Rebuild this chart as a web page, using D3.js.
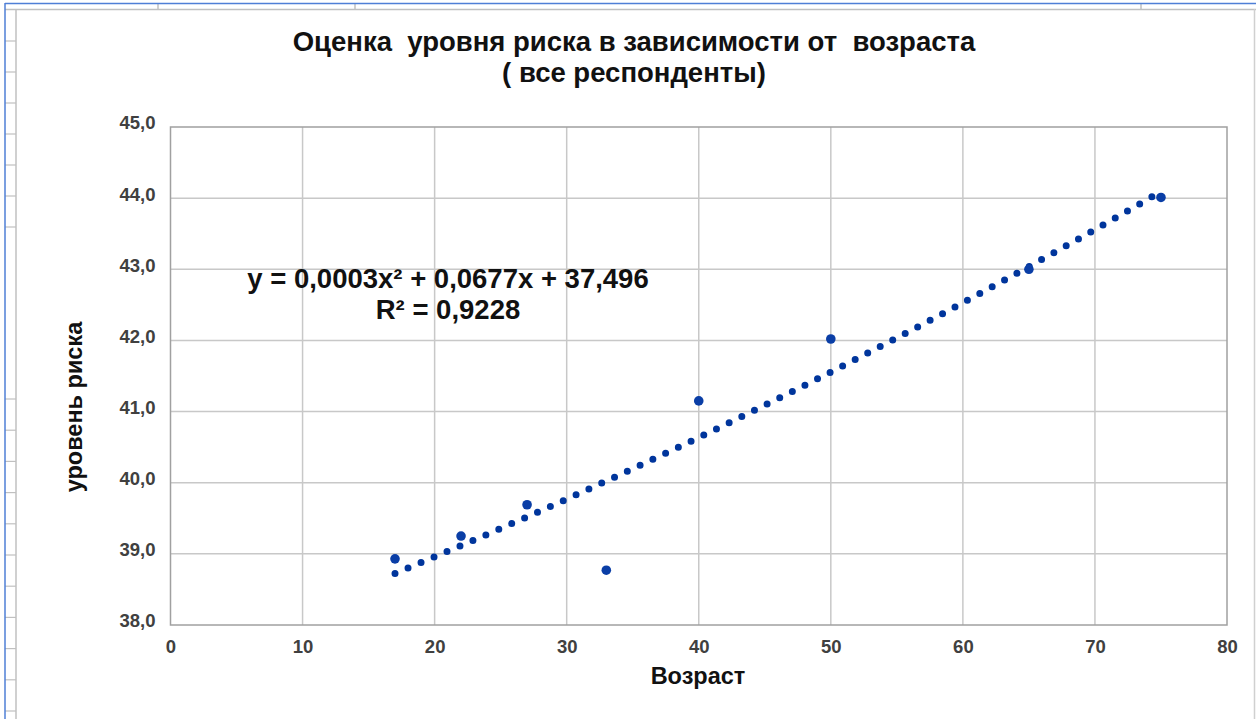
<!DOCTYPE html>
<html>
<head>
<meta charset="utf-8">
<script src="https://cdn.jsdelivr.net/npm/d3@7"></script>
<style>
  html, body { margin: 0; padding: 0; background: #fff; }
  svg { display: block; }
  text { font-family: "Liberation Sans", Arial, sans-serif; }
</style>
</head>
<body>
<svg id="chart" width="1256" height="719"></svg>
<script>
// ---- data ----
const ages = [17, 22, 27, 33, 40, 50, 65, 75];
const risk = [38.93, 39.25, 39.69, 38.77, 41.15, 42.02, 43.0, 44.01];
const xTicks = [0, 10, 20, 30, 40, 50, 60, 70, 80];
const yTicks = [38, 39, 40, 41, 42, 43, 44, 45];
const trendCoef = [0.00027, 0.0677, 37.496]; // a, b, c of polynomial trendline
const titleLines = ["Оценка  уровня риска в зависимости от  возраста", "( все респонденты)"];
const eqLines = ["y = 0,0003x² + 0,0677x + 37,496", "R² = 0,9228"];
const xTitle = "Возраст";
const yTitle = "уровень риска";

const svg = d3.select("#chart");
const W = 1256, H = 719;

// ---- spreadsheet frame decoration ----
const deco = svg.append("g");
deco.append("rect").attr("x", 0).attr("y", 0).attr("width", W).attr("height", H).attr("fill", "#fff");
deco.append("line").attr("x1", 5).attr("x2", W).attr("y1", 9.5).attr("y2", 9.5).attr("stroke", "#c0c0c0").attr("stroke-width", 1.5);
[158, 355, 1141].forEach(xx => deco.append("line").attr("x1", xx).attr("x2", xx).attr("y1", 3).attr("y2", 9.5).attr("stroke", "#c0c0c0").attr("stroke-width", 1.5));
deco.append("line").attr("x1", 16).attr("x2", 16).attr("y1", 9).attr("y2", H).attr("stroke", "#c0c0c0").attr("stroke-width", 1.5);
deco.append("line").attr("x1", W - 1.5).attr("x2", W - 1.5).attr("y1", 9).attr("y2", H).attr("stroke", "#d0d0d0").attr("stroke-width", 1.5);
const stripYs = [];
for (let yy = 41; yy < 240; yy += 31) stripYs.push(yy);
for (let yy = 399; yy < H; yy += 31.2) stripYs.push(yy);
stripYs.forEach(yy => deco.append("line").attr("x1", 5).attr("x2", 16).attr("y1", yy).attr("y2", yy).attr("stroke", "#c0c0c0").attr("stroke-width", 1.2));
deco.append("line").attr("x1", 5).attr("x2", W).attr("y1", 3.5).attr("y2", 3.5).attr("stroke", "#4f7fd6").attr("stroke-width", 1.5);
deco.append("line").attr("x1", 5).attr("x2", 5).attr("y1", 3).attr("y2", H).attr("stroke", "#4f7fd6").attr("stroke-width", 1.5);

// ---- scales ----
const x = d3.scaleLinear().domain([0, 80]).range([170.5, 1227]);
const y = d3.scaleLinear().domain([38, 45]).range([625, 127]);

// ---- gridlines ----
const grid = svg.append("g");
grid.selectAll(".vg").data(xTicks.slice(1, -1)).enter().append("line")
  .attr("x1", d => x(d)).attr("x2", d => x(d)).attr("y1", y(45)).attr("y2", y(38))
  .attr("stroke", "#c8c8c8").attr("stroke-width", 1.5);
grid.selectAll(".hg").data(yTicks.slice(1, -1)).enter().append("line")
  .attr("x1", x(0)).attr("x2", x(80)).attr("y1", d => y(d)).attr("y2", d => y(d))
  .attr("stroke", "#c8c8c8").attr("stroke-width", 1.5);
grid.append("rect").attr("x", x(0)).attr("y", y(45)).attr("width", x(80) - x(0)).attr("height", y(38) - y(45))
  .attr("fill", "none").attr("stroke", "#a0a0a0").attr("stroke-width", 1.5);

// ---- axes ----
const fmt = d => d.toFixed(1).replace(".", ",");
const xAxis = svg.append("g").attr("transform", `translate(0,${y(38)})`)
  .call(d3.axisBottom(x).tickValues(xTicks).tickSize(0).tickPadding(15).tickFormat(d => d));
const yAxis = svg.append("g").attr("transform", `translate(${x(0)},0)`)
  .call(d3.axisLeft(y).tickValues(yTicks).tickSize(0).tickPadding(15).tickFormat(fmt));
[xAxis, yAxis].forEach(a => {
  a.select(".domain").remove();
  a.selectAll("text").attr("font-family", "'Liberation Sans', Arial, sans-serif")
    .attr("font-weight", "bold").attr("font-size", 18.5).attr("fill", "#404040");
});
yAxis.selectAll("text").attr("dy", "0.1em");

// ---- trendline ----
const xs = d3.range(d3.min(ages), d3.max(ages) + 0.001, 0.25);
const poly = v => trendCoef[0] * v * v + trendCoef[1] * v + trendCoef[2];
svg.append("path")
  .datum(xs)
  .attr("d", d3.line().x(d => x(d)).y(d => y(poly(d))))
  .attr("fill", "none").attr("stroke", "#00359c").attr("stroke-width", 7)
  .attr("stroke-linecap", "round").attr("stroke-dasharray", "0 14.1");

// ---- points ----
svg.append("g").selectAll("circle").data(ages).enter().append("circle")
  .attr("cx", d => x(d)).attr("cy", (d, i) => y(risk[i])).attr("r", 4.8)
  .attr("fill", "#0a3ea6");

// ---- texts ----
svg.append("g").selectAll("text").data(titleLines).enter().append("text")
  .attr("x", 634).attr("y", (d, i) => 51 + i * 31)
  .attr("text-anchor", "middle").attr("font-weight", "bold").attr("font-size", 27.5)
  .attr("fill", "#111").attr("xml:space", "preserve").style("white-space", "pre").text(d => d);

svg.append("g").selectAll("text").data(eqLines).enter().append("text")
  .attr("x", 448).attr("y", (d, i) => 288 + i * 31)
  .attr("text-anchor", "middle").attr("font-weight", "bold").attr("font-size", 27.5)
  .attr("fill", "#111").text(d => d);

svg.append("text").attr("x", 698).attr("y", 684).attr("text-anchor", "middle")
  .attr("font-weight", "bold").attr("font-size", 23.5).attr("fill", "#111").text(xTitle);

svg.append("text").attr("transform", "translate(82,407) rotate(-90)").attr("text-anchor", "middle")
  .attr("font-weight", "bold").attr("font-size", 23.5).attr("fill", "#111").text(yTitle);
</script>
</body>
</html>
